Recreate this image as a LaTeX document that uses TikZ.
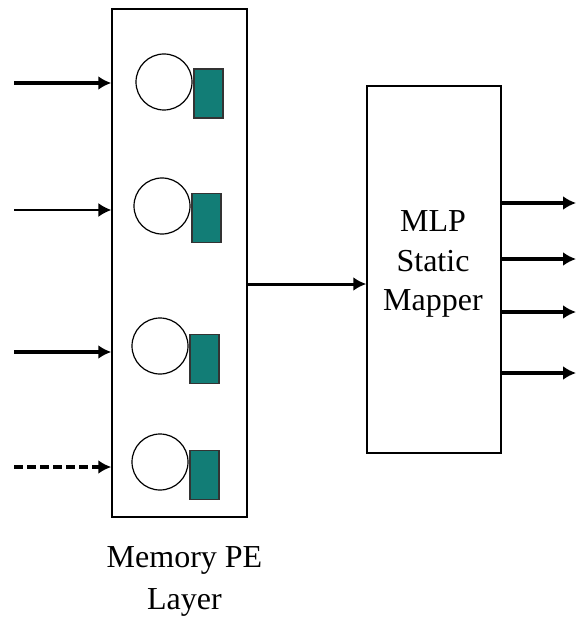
\documentclass[tikz,border=0pt]{standalone}
\usepackage{fontspec}
\setmainfont{Liberation Serif}
\usetikzlibrary{arrows.meta,positioning}
\definecolor{cellteal}{RGB}{18,125,118}

\begin{document}
\begin{tikzpicture}[x=1pt,y=-1pt,>={Latex[length=13pt,width=14pt]},
  font=\fontsize{32}{39.5}\selectfont,
  box/.style={draw,line width=1.5pt,inner sep=0pt},
  pe/.style={circle,draw,line width=1.2pt,minimum size=56pt,inner sep=0pt},
  cell/.style={draw=black!80,fill=cellteal,line width=1.2pt,minimum width=29pt,minimum height=49pt,inner sep=0pt},
  feed/.style={->,line width=3.2pt},
  thinfeed/.style={->,line width=1.6pt}]
\useasboundingbox (0,0) rectangle (577,620);
\node[box,minimum width=135pt,minimum height=508pt] (mem) at (179.5,263) {};
\node[box,minimum width=134pt,minimum height=367pt] (map) at (434,269.5) {};
\node[align=center,inner sep=0pt] (maptext) at (433,264) {MLP\\Static\\Mapper};
\node[align=center,inner sep=0pt,font=\fontsize{32}{42}\selectfont] (memtext) at (184.5,581) {Memory PE\\Layer};
% memory elements
\node[pe] (c1) at (164,82) {};   \node[cell] (r1) at (208.5,93.5) {};
\node[pe] (c2) at (162,206) {};  \node[cell] (r2) at (206.5,218) {};
\node[pe] (c3) at (160,346) {};  \node[cell] (r3) at (204.5,359) {};
\node[pe] (c4) at (160,462) {};  \node[cell] (r4) at (204.5,475) {};
% inputs
\coordinate (i1) at (14,83); \coordinate (i2) at (14,210);
\coordinate (i3) at (14,352); \coordinate (i4) at (14,467);
\draw[feed] (i1) -- (i1 -| mem.west);
\draw[thinfeed] (i2) -- (i2 -| mem.west);
\draw[feed] (i3) -- (i3 -| mem.west);
\draw[feed,dash pattern=on 9pt off 4pt] (i4) -- (i4 -| mem.west);
% memory layer to mapper
\coordinate (m) at (247,284);
\draw[feed,line width=3pt] (m) -- (m -| map.west);
% outputs
\foreach \y [count=\k] in {203,259,312,373} {
  \coordinate (o\k) at (576,\y);
  \draw[feed] (o\k -| map.east) -- (o\k);
}
\end{tikzpicture}
\end{document}
